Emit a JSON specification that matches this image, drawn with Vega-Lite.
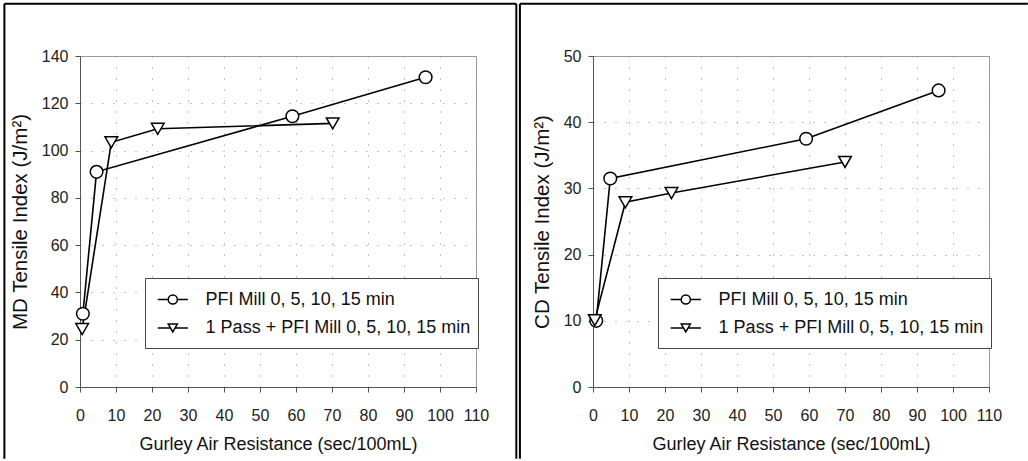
{
  "$schema": "https://vega.github.io/schema/vega-lite/v6.json",
  "padding": {"left": 2, "top": 2, "right": 0, "bottom": 0},
  "spacing": 0,
  "background": "white",
  "datasets": {
    "md": [
      {"gurley": 0.8, "tensile": 31, "series": "PFI Mill 0, 5, 10, 15 min"},
      {"gurley": 4.6, "tensile": 91, "series": "PFI Mill 0, 5, 10, 15 min"},
      {"gurley": 59, "tensile": 114.5, "series": "PFI Mill 0, 5, 10, 15 min"},
      {"gurley": 96, "tensile": 131, "series": "PFI Mill 0, 5, 10, 15 min"},
      {"gurley": 0.6, "tensile": 24.5, "series": "1 Pass + PFI Mill 0, 5, 10, 15 min"},
      {"gurley": 8.7, "tensile": 103.5, "series": "1 Pass + PFI Mill 0, 5, 10, 15 min"},
      {"gurley": 21.6, "tensile": 109.2, "series": "1 Pass + PFI Mill 0, 5, 10, 15 min"},
      {"gurley": 70.2, "tensile": 111.5, "series": "1 Pass + PFI Mill 0, 5, 10, 15 min"}
    ],
    "cd": [
      {"gurley": 0.9, "tensile": 10, "series": "PFI Mill 0, 5, 10, 15 min"},
      {"gurley": 4.8, "tensile": 31.5, "series": "PFI Mill 0, 5, 10, 15 min"},
      {"gurley": 59.2, "tensile": 37.5, "series": "PFI Mill 0, 5, 10, 15 min"},
      {"gurley": 96, "tensile": 44.8, "series": "PFI Mill 0, 5, 10, 15 min"},
      {"gurley": 0.5, "tensile": 10.1, "series": "1 Pass + PFI Mill 0, 5, 10, 15 min"},
      {"gurley": 9, "tensile": 27.9, "series": "1 Pass + PFI Mill 0, 5, 10, 15 min"},
      {"gurley": 21.8, "tensile": 29.3, "series": "1 Pass + PFI Mill 0, 5, 10, 15 min"},
      {"gurley": 70, "tensile": 34, "series": "1 Pass + PFI Mill 0, 5, 10, 15 min"}
    ]
  },
  "config": {
    "font": "Liberation Sans",
    "view": {"stroke": "#9a9a9a", "strokeWidth": 1},
    "axis": {
      "labelFont": "Liberation Sans",
      "labelFontSize": 16,
      "labelColor": "#222",
      "titleFont": "Liberation Sans",
      "titleFontSize": 18,
      "titleFontWeight": "normal",
      "titleColor": "#111",
      "domainColor": "#555",
      "tickColor": "#555",
      "tickSize": 5,
      "gridColor": "#8a8a8a",
      "gridDash": [1, 10],
      "gridWidth": 1,
      "labelFlush": false,
      "labelOverlap": false
    },
    "axisX": {"labelPadding": 15, "titlePadding": 12},
    "axisY": {"labelPadding": 7, "titlePadding": 11, "titleFontSize": 20.5},
    "legend": {
      "orient": "none",
      "legendX": 65,
      "legendY": 222,
      "title": null,
      "strokeColor": "#444",
      "fillColor": "white",
      "padding": 7,
      "labelFont": "Liberation Sans",
      "labelFontSize": 18,
      "labelColor": "#111",
      "labelLimit": 400,
      "labelOffset": 18.3,
      "symbolOffset": 6.3,
      "symbolSize": 750,
      "symbolStrokeColor": "black",
      "symbolFillColor": "white",
      "symbolStrokeWidth": 1.5,
      "symbolOpacity": 1,
      "rowPadding": 0.5
    }
  },
  "hconcat": [
    {
      "width": 396,
      "height": 331,
      "data": {"name": "md"},
      "resolve": {"scale": {"shape": "independent"}},
      "layer": [
        {
          "mark": {"type": "line", "color": "black", "strokeWidth": 1.6},
          "encoding": {
            "x": {"field": "gurley", "type": "quantitative", "scale": {"domain": [0, 110], "nice": false}, "axis": {"title": "Gurley Air Resistance (sec/100mL)", "values": [0, 10, 20, 30, 40, 50, 60, 70, 80, 90, 100, 110], "tickCount": 12, "grid": true}},
            "y": {"field": "tensile", "type": "quantitative", "scale": {"domain": [0, 140], "nice": false}, "axis": {"title": "MD Tensile Index (J/m²)", "values": [0, 20, 40, 60, 80, 100, 120, 140], "tickCount": 8, "grid": true}},
            "detail": {"field": "series"}
          }
        },
        {
          "mark": {"type": "point", "filled": true, "fill": "white", "stroke": "black", "strokeWidth": 1.5, "size": 160, "opacity": 1},
          "encoding": {
            "x": {"field": "gurley", "type": "quantitative", "axis": {"title": "Gurley Air Resistance (sec/100mL)", "values": [0, 10, 20, 30, 40, 50, 60, 70, 80, 90, 100, 110], "tickCount": 12, "grid": true}},
            "y": {"field": "tensile", "type": "quantitative", "axis": {"title": "MD Tensile Index (J/m²)", "values": [0, 20, 40, 60, 80, 100, 120, 140], "tickCount": 8, "grid": true}},
            "shape": {"field": "series", "type": "nominal", "scale": {"domain": ["PFI Mill 0, 5, 10, 15 min", "1 Pass + PFI Mill 0, 5, 10, 15 min"], "range": ["circle", "triangle-down"]}, "legend": null}
          }
        },
        {
          "mark": {"type": "point", "filled": false, "color": "black", "strokeWidth": 1.5, "size": 144, "opacity": 0},
          "encoding": {
            "x": {"field": "gurley", "type": "quantitative", "axis": {"title": "Gurley Air Resistance (sec/100mL)", "values": [0, 10, 20, 30, 40, 50, 60, 70, 80, 90, 100, 110], "tickCount": 12, "grid": true}},
            "y": {"field": "tensile", "type": "quantitative", "axis": {"title": "MD Tensile Index (J/m²)", "values": [0, 20, 40, 60, 80, 100, 120, 140], "tickCount": 8, "grid": true}},
            "shape": {"field": "series", "type": "nominal", "scale": {"domain": ["PFI Mill 0, 5, 10, 15 min", "1 Pass + PFI Mill 0, 5, 10, 15 min"], "range": ["M-1.1,0L-0.333,0M0.333,0L1.1,0M-0.333,0A0.333,0.333,0,1,1,0.333,0A0.333,0.333,0,1,1,-0.333,0ZM0,-0.72M0,0.72", "M-1.1,0L-0.167,0M0.167,0L1.1,0M0,0.289L0.333,-0.289L-0.333,-0.289ZM0,-0.72M0,0.72"]}, "legend": {}}
          }
        },
        {
          "data": {"values": [{}]},
          "mark": {"type": "rule", "color": "black", "strokeWidth": 2},
          "encoding": {
            "x": {"datum": -21, "type": "quantitative", "axis": {"title": "Gurley Air Resistance (sec/100mL)", "values": [0, 10, 20, 30, 40, 50, 60, 70, 80, 90, 100, 110], "tickCount": 12, "grid": true}},
            "x2": {"datum": 121.2},
            "y": {"datum": 162.1, "type": "quantitative", "axis": {"title": "MD Tensile Index (J/m²)", "values": [0, 20, 40, 60, 80, 100, 120, 140], "tickCount": 8, "grid": true}}
          }
        },
        {
          "data": {"values": [{}]},
          "mark": {"type": "rule", "color": "black", "strokeWidth": 2},
          "encoding": {
            "x": {"datum": -21, "type": "quantitative", "axis": {"title": "Gurley Air Resistance (sec/100mL)", "values": [0, 10, 20, 30, 40, 50, 60, 70, 80, 90, 100, 110], "tickCount": 12, "grid": true}},
            "y": {"datum": 162.1, "type": "quantitative", "axis": {"title": "MD Tensile Index (J/m²)", "values": [0, 20, 40, 60, 80, 100, 120, 140], "tickCount": 8, "grid": true}},
            "y2": {"datum": -30.3}
          }
        },
        {
          "data": {"values": [{}]},
          "mark": {"type": "rule", "color": "black", "strokeWidth": 2},
          "encoding": {
            "x": {"datum": 121.2, "type": "quantitative", "axis": {"title": "Gurley Air Resistance (sec/100mL)", "values": [0, 10, 20, 30, 40, 50, 60, 70, 80, 90, 100, 110], "tickCount": 12, "grid": true}},
            "y": {"datum": 162.1, "type": "quantitative", "axis": {"title": "MD Tensile Index (J/m²)", "values": [0, 20, 40, 60, 80, 100, 120, 140], "tickCount": 8, "grid": true}},
            "y2": {"datum": -30.3}
          }
        }
      ]
    },
    {
      "width": 396,
      "height": 331,
      "data": {"name": "cd"},
      "resolve": {"scale": {"shape": "independent"}},
      "layer": [
        {
          "mark": {"type": "line", "color": "black", "strokeWidth": 1.6},
          "encoding": {
            "x": {"field": "gurley", "type": "quantitative", "scale": {"domain": [0, 110], "nice": false}, "axis": {"title": "Gurley Air Resistance (sec/100mL)", "values": [0, 10, 20, 30, 40, 50, 60, 70, 80, 90, 100, 110], "tickCount": 12, "grid": true}},
            "y": {"field": "tensile", "type": "quantitative", "scale": {"domain": [0, 50], "nice": false}, "axis": {"title": "CD Tensile Index (J/m²)", "values": [0, 10, 20, 30, 40, 50], "tickCount": 6, "grid": true}},
            "detail": {"field": "series"}
          }
        },
        {
          "mark": {"type": "point", "filled": true, "fill": "white", "stroke": "black", "strokeWidth": 1.5, "size": 160, "opacity": 1},
          "encoding": {
            "x": {"field": "gurley", "type": "quantitative", "axis": {"title": "Gurley Air Resistance (sec/100mL)", "values": [0, 10, 20, 30, 40, 50, 60, 70, 80, 90, 100, 110], "tickCount": 12, "grid": true}},
            "y": {"field": "tensile", "type": "quantitative", "axis": {"title": "CD Tensile Index (J/m²)", "values": [0, 10, 20, 30, 40, 50], "tickCount": 6, "grid": true}},
            "shape": {"field": "series", "type": "nominal", "scale": {"domain": ["PFI Mill 0, 5, 10, 15 min", "1 Pass + PFI Mill 0, 5, 10, 15 min"], "range": ["circle", "triangle-down"]}, "legend": null}
          }
        },
        {
          "mark": {"type": "point", "filled": false, "color": "black", "strokeWidth": 1.5, "size": 144, "opacity": 0},
          "encoding": {
            "x": {"field": "gurley", "type": "quantitative", "axis": {"title": "Gurley Air Resistance (sec/100mL)", "values": [0, 10, 20, 30, 40, 50, 60, 70, 80, 90, 100, 110], "tickCount": 12, "grid": true}},
            "y": {"field": "tensile", "type": "quantitative", "axis": {"title": "CD Tensile Index (J/m²)", "values": [0, 10, 20, 30, 40, 50], "tickCount": 6, "grid": true}},
            "shape": {"field": "series", "type": "nominal", "scale": {"domain": ["PFI Mill 0, 5, 10, 15 min", "1 Pass + PFI Mill 0, 5, 10, 15 min"], "range": ["M-1.1,0L-0.333,0M0.333,0L1.1,0M-0.333,0A0.333,0.333,0,1,1,0.333,0A0.333,0.333,0,1,1,-0.333,0ZM0,-0.72M0,0.72", "M-1.1,0L-0.167,0M0.167,0L1.1,0M0,0.289L0.333,-0.289L-0.333,-0.289ZM0,-0.72M0,0.72"]}, "legend": {}}
          }
        },
        {
          "data": {"values": [{}]},
          "mark": {"type": "rule", "color": "black", "strokeWidth": 2},
          "encoding": {
            "x": {"datum": -20.3, "type": "quantitative", "axis": {"title": "Gurley Air Resistance (sec/100mL)", "values": [0, 10, 20, 30, 40, 50, 60, 70, 80, 90, 100, 110], "tickCount": 12, "grid": true}},
            "x2": {"datum": 120.8},
            "y": {"datum": 57.9, "type": "quantitative", "axis": {"title": "CD Tensile Index (J/m²)", "values": [0, 10, 20, 30, 40, 50], "tickCount": 6, "grid": true}}
          }
        },
        {
          "data": {"values": [{}]},
          "mark": {"type": "rule", "color": "black", "strokeWidth": 2},
          "encoding": {
            "x": {"datum": -20.3, "type": "quantitative", "axis": {"title": "Gurley Air Resistance (sec/100mL)", "values": [0, 10, 20, 30, 40, 50, 60, 70, 80, 90, 100, 110], "tickCount": 12, "grid": true}},
            "y": {"datum": 57.9, "type": "quantitative", "axis": {"title": "CD Tensile Index (J/m²)", "values": [0, 10, 20, 30, 40, 50], "tickCount": 6, "grid": true}},
            "y2": {"datum": -10.83}
          }
        }
      ]
    }
  ]
}
